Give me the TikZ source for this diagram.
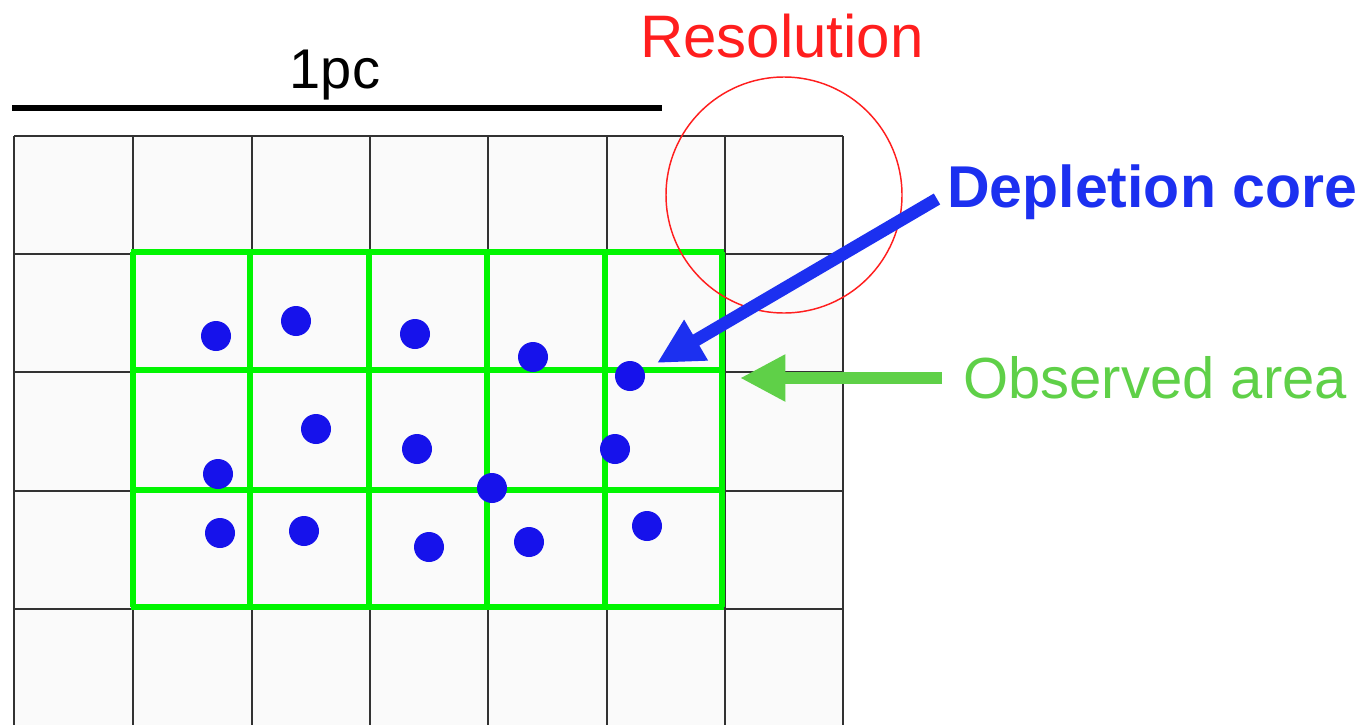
\documentclass[tikz,border=0pt]{standalone}
\usepackage{fontspec}
\setmainfont{Liberation Sans}
\usetikzlibrary{arrows.meta}

\definecolor{gridgray}{RGB}{50,50,50}
\definecolor{cellfill}{RGB}{250,250,250}
\definecolor{areagreen}{RGB}{0,245,0}
\definecolor{dotblue}{RGB}{22,18,235}
\definecolor{coreblue}{RGB}{28,48,240}
\definecolor{labelgreen}{RGB}{95,208,72}
\definecolor{resred}{RGB}{255,30,30}

\tikzset{
  gridline/.style={draw=gridgray, line width=1.5pt},
  arealine/.style={draw=areagreen, line width=4pt},
  core/.style={circle, fill=dotblue, inner sep=0pt, minimum size=22.5pt},
  bigarrow/.style={line width=9.5pt, -{Triangle[length=34pt, width=33pt]}},
  lbl/.style={inner sep=0pt, anchor=base}
}

\begin{document}
\begin{tikzpicture}[x=0.75pt, y=-0.75pt]
\useasboundingbox (0,0) rectangle (1367,725);

% map cells
\fill[cellfill] (14,136) rectangle (843,725);
\foreach \x in {14,133,252,370,488,607,725,843}
  \draw[gridline] (\x,136) -- (\x,725);
\foreach \y in {136,254,372,491,609}
  \draw[gridline] (14,\y) -- (843,\y);

% observed area
\foreach \x in {133,250,369,487,605,722}
  \draw[arealine] (\x,252) -- (\x,607);
\foreach \y in {252,370,490,607}
  \draw[arealine] (131,\y) -- (724,\y);

% scale bar
\coordinate (barL) at (12,108);
\coordinate (barR) at (662,108);
\draw[line width=4.5pt] (barL) -- (barR);
\node[lbl, font=\fontsize{42}{50}\selectfont] (pc) at (335,88) {1pc};

% resolution beam
\node[draw=resred, line width=1.1pt, circle, minimum size=177pt, inner sep=0pt] (beam) at (784,195) {};
\node[lbl, text=resred, font=\fontsize{45}{54}\selectfont] (res) at (782,57) {Resolution};

% depletion cores
\foreach \n/\x/\y in {1/216/336, 2/296/321, 3/415/334, 4/533/357, 5/630/376,
                     6/316/429, 7/417/449, 8/615/449, 9/218/474, 10/492/488,
                     11/220/533, 12/304/531, 13/429/547, 14/529/542, 15/647/526}
  \node[core] (c\n) at (\x,\y) {};

% labels and pointers
\node[lbl, anchor=base west, text=coreblue, font=\bfseries\fontsize{44.25}{53}\selectfont] (corelbl) at (947,207) {Depletion core};
\node[lbl, anchor=base west, text=labelgreen, font=\fontsize{43.5}{52}\selectfont] (arealbl) at (963,398) {Observed area};

\coordinate (coreTail) at (937,199);
\coordinate (coreTip) at (657,363);
\draw[bigarrow, draw=coreblue, fill=coreblue] (coreTail) -- (coreTip);

\coordinate (areaTail) at (942,378);
\coordinate (areaTip) at (740,378);
\draw[bigarrow, draw=labelgreen, fill=labelgreen] (areaTail) -- (areaTip);
\end{tikzpicture}
\end{document}
